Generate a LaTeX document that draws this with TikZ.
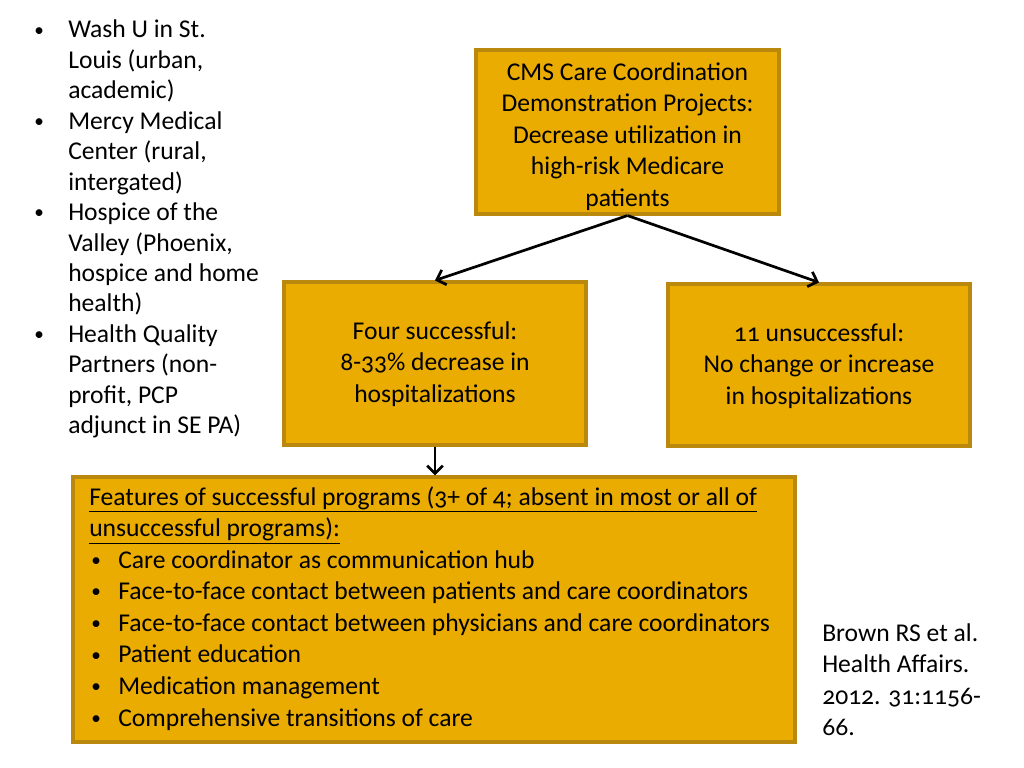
\documentclass[tikz,border=0pt]{standalone}
\usepackage{fontspec}
\setmainfont{Carlito}[Numbers=OldStyle]
\usetikzlibrary{arrows.meta,fit}
\definecolor{boxfill}{RGB}{234,172,0}
\definecolor{boxline}{RGB}{186,136,12}
\newcommand{\bul}{\raisebox{0.15ex}{\scalebox{0.75}{•}}}
\begin{document}
\begin{tikzpicture}[x=0.703125pt,y=-0.703125pt,
  box/.style={draw=boxline, fill=boxfill, line width=2.2pt, inner sep=0pt},
  boxtxt/.style={inner sep=0pt, align=center, font=\fontsize{18}{22.1}\selectfont},
  arr/.style={line width=1.9pt, -{Straight Barb[length=5.5pt,width=11pt,line width=1.9pt]}},
  txt/.style={inner sep=0pt, anchor=base west, font=\fontsize{18}{21.4}\selectfont},
  txtb/.style={inner sep=0pt, anchor=base west, font=\fontsize{18}{22.2}\selectfont}]
\useasboundingbox (0,0) rectangle (1024,768);
\fill[white] (0,0) rectangle (1024,768);
% boxes
\node[box, fit={(476,50) (779,214)}] (top) {};
\node[box, fit={(284,282) (586,445)}] (succ) {};
\node[box, fit={(668,284) (970,446)}] (unsucc) {};
\node[box, fit={(73,477) (795,742)}] (feat) {};
\node[boxtxt] (toptext) at ([yshift=-3.2pt]top.center) {CMS Care Coordination\\Demonstration Projects:\\Decrease utilization in\\high-risk Medicare\\patients};
\node[boxtxt] (succtext) at ([yshift=-0.4pt]succ.center) {Four successful:\\8-33\% decrease in\\hospitalizations};
\node[boxtxt] (unsucctext) at ([yshift=-0.7pt]unsucc.center) {11 unsuccessful:\\No change or increase\\in hospitalizations};
% arrows
\draw[arr] (top.south) -- (succ.north);
\draw[arr] (top.south) -- (unsucc.north);
\draw[arr] (succ.south) -- (succ.south |- feat.north);
% features text
\node[txtb] (feattext) at (89,505) {\begin{tabular}[t]{@{}p{20.4pt}@{}l@{}}
\multicolumn{2}{@{}l@{}}{\underline{Features of successful programs (3+ of 4; absent in most or all of}}\\
\multicolumn{2}{@{}l@{}}{\underline{unsuccessful programs):}}\\
\hspace{1.5pt}\bul & Care coordinator as communication hub\\
\hspace{1.5pt}\bul & Face-to-face contact between patients and care coordinators\\
\hspace{1.5pt}\bul & Face-to-face contact between physicians and care coordinators\\
\hspace{1.5pt}\bul & Patient education\\
\hspace{1.5pt}\bul & Medication management\\
\hspace{1.5pt}\bul & Comprehensive transitions of care
\end{tabular}};
% left list
\node[txt] (sites) at (34,38) {\begin{tabular}[t]{@{}p{23.9pt}@{}l@{}}
\bul & Wash U in St.\\
  & Louis (urban,\\
  & academic)\\
\bul & Mercy Medical\\
  & Center (rural,\\
  & intergated)\\
\bul & Hospice of the\\
  & Valley (Phoenix,\\
  & hospice and home\\
  & health)\\
\bul & Health Quality\\
  & Partners (non-\\
  & profit, PCP\\
  & adjunct in SE PA)
\end{tabular}};
% citation
\node[txtb] (cite) at (822,641) {\begin{tabular}[t]{@{}l@{}}
Brown RS et al.\\
Health Affairs.\\
2012. 31:1156-\\
66.
\end{tabular}};
\end{tikzpicture}
\end{document}
